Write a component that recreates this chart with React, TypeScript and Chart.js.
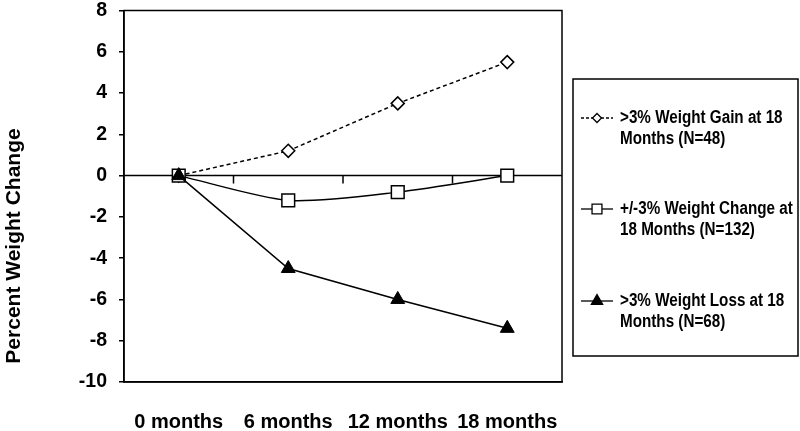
import React, { useEffect, useRef } from 'react';
import { Chart, registerables } from 'chart.js';

Chart.register(...registerables);

const categories = ['0 months', '6 months', '12 months', '18 months'];
const gainValues = [0, 1.2, 3.5, 5.5];
const stableValues = [0, -1.2, -0.8, 0];
const lossValues = [0, -4.5, -6.0, -7.4];
const yTickValues = [-10, -8, -6, -4, -2, 0, 2, 4, 6, 8];
const gainLegend = ['>3% Weight Gain at 18', 'Months (N=48)'];
const stableLegend = ['+/-3% Weight Change at', '18 Months (N=132)'];
const lossLegend = ['>3% Weight Loss at 18', 'Months (N=68)'];
const yTitle = 'Percent Weight Change';

const FONT = '"Liberation Sans", Arial, sans-serif';

function drawMarker(ctx: CanvasRenderingContext2D, style: string, x: number, y: number, r: number) {
  ctx.beginPath();
  if (style === 'rectRot') {
    ctx.moveTo(x, y - r);
    ctx.lineTo(x + r, y);
    ctx.lineTo(x, y + r);
    ctx.lineTo(x - r, y);
    ctx.closePath();
    ctx.fillStyle = '#fff';
    ctx.fill();
    ctx.stroke();
  } else if (style === 'rect') {
    const s = r * Math.SQRT1_2;
    ctx.rect(x - s, y - s, 2 * s, 2 * s);
    ctx.fillStyle = '#fff';
    ctx.fill();
    ctx.stroke();
  } else {
    ctx.moveTo(x, y - r);
    ctx.lineTo(x + r * 0.866, y + r * 0.5);
    ctx.lineTo(x - r * 0.866, y + r * 0.5);
    ctx.closePath();
    ctx.fillStyle = '#000';
    ctx.fill();
    ctx.stroke();
  }
}

const framePlugin = {
  id: 'frameAndLegend',
  beforeDatasetsDraw(chart: any) {
    const { ctx, chartArea: a, scales } = chart;
    const xs = scales.x;
    const ys = scales.y;
    ctx.save();
    ctx.strokeStyle = '#000';
    ctx.lineWidth = 1.5;
    ctx.strokeRect(a.left, a.top, a.right - a.left, a.bottom - a.top);
    const y0 = ys.getPixelForValue(0);
    ctx.beginPath();
    ctx.moveTo(a.left, y0);
    ctx.lineTo(a.right, y0);
    for (let i = 1; i < categories.length; i++) {
      const bx = (xs.getPixelForValue(i - 1) + xs.getPixelForValue(i)) / 2;
      ctx.moveTo(bx, y0);
      ctx.lineTo(bx, y0 + 8);
    }
    ctx.stroke();
    ctx.restore();
  },
  afterDraw(chart: any) {
    const { ctx } = chart;
    ctx.save();
    // y-axis title
    ctx.fillStyle = '#000';
    ctx.font = `bold 21px ${FONT}`;
    ctx.textAlign = 'center';
    ctx.textBaseline = 'middle';
    ctx.translate(14, 246);
    ctx.rotate(-Math.PI / 2);
    ctx.fillText(yTitle, 0, 0);
    ctx.restore();

    // legend box
    ctx.save();
    ctx.strokeStyle = '#000';
    ctx.lineWidth = 1.5;
    ctx.strokeRect(573, 79, 225, 277);
    const entries = [
      { lines: gainLegend, y: 118, dash: [3, 2], marker: 'rectRot', r: 4.5 },
      { lines: stableLegend, y: 209, dash: [], marker: 'rect', r: 7 },
      { lines: lossLegend, y: 301, dash: [], marker: 'triangle', r: 6.5 },
    ];
    entries.forEach((e) => {
      ctx.save();
      ctx.lineWidth = 1.3;
      ctx.strokeStyle = '#000';
      ctx.setLineDash(e.dash);
      ctx.beginPath();
      ctx.moveTo(581, e.y);
      ctx.lineTo(613, e.y);
      ctx.stroke();
      ctx.setLineDash([]);
      drawMarker(ctx, e.marker, 597, e.y, e.r);
      ctx.restore();
      e.lines.forEach((t, i) => {
        ctx.save();
        ctx.fillStyle = '#000';
        ctx.font = `bold 17.5px ${FONT}`;
        ctx.textAlign = 'left';
        ctx.textBaseline = 'middle';
        ctx.translate(620, e.y + i * 21);
        ctx.scale(0.87, 1);
        ctx.fillText(t, 0, 0);
        ctx.restore();
      });
    });
    ctx.restore();
  },
};

export default function App() {
  const ref = useRef<HTMLCanvasElement>(null);
  useEffect(() => {
    if (!ref.current) return;
    const chart = new Chart(ref.current, {
      type: 'line',
      data: {
        labels: categories,
        datasets: [
          {
            label: lossLegend.join(' '),
            data: lossValues,
            borderColor: '#000',
            borderWidth: 1.5,
            pointStyle: 'triangle',
            pointRadius: 8,
            pointBackgroundColor: '#000',
            pointBorderColor: '#000',
            pointBorderWidth: 1,
            tension: 0,
          },
          {
            label: stableLegend.join(' '),
            data: stableValues,
            borderColor: '#000',
            borderWidth: 1.5,
            pointStyle: 'rect',
            pointRadius: 9,
            pointBackgroundColor: '#fff',
            pointBorderColor: '#000',
            pointBorderWidth: 1.5,
            tension: 0.25,
          },
          {
            label: gainLegend.join(' '),
            data: gainValues,
            borderColor: '#000',
            borderWidth: 1.5,
            borderDash: [4, 3],
            pointStyle: 'rectRot',
            pointRadius: 6.5,
            pointBackgroundColor: '#fff',
            pointBorderColor: '#000',
            pointBorderWidth: 1.5,
            tension: 0,
          },
        ],
      },
      options: {
        animation: false,
        responsive: true,
        maintainAspectRatio: false,
        layout: { padding: { top: 9, right: 238, left: 0, bottom: 0 } },
        plugins: { legend: { display: false }, tooltip: { enabled: false } },
        scales: {
          x: {
            type: 'category',
            offset: true,
            grid: { display: true, drawOnChartArea: false, drawTicks: false },
            border: { display: true, color: '#000', width: 1.5 },
            ticks: {
              color: '#000',
              padding: 28,
              font: { family: FONT, size: 20, weight: 'bold' },
              maxRotation: 0,
            },
            afterFit: (s: any) => {
              s.height = 49;
              s.paddingLeft = 0;
              s.paddingRight = 0;
            },
          },
          y: {
            min: -10,
            max: 8,
            grid: { display: true, drawOnChartArea: false, drawTicks: true, tickLength: 5, color: '#000', lineWidth: 1.5 },
            border: { display: true, color: '#000', width: 1.5 },
            ticks: {
              color: '#000',
              padding: 12,
              font: { family: FONT, size: 19.5, weight: 'bold' },
            },
            afterBuildTicks: (s: any) => {
              s.ticks = yTickValues.map((v) => ({ value: v }));
            },
            afterFit: (s: any) => {
              s.width = 124;
              s.paddingTop = 0;
              s.paddingBottom = 0;
            },
          },
        },
      },
      plugins: [framePlugin],
    });
    return () => chart.destroy();
  }, []);
  return (
    <div style={{ position: 'absolute', left: 0, top: 0, width: 800, height: 431, background: '#fff' }}>
      <canvas ref={ref} />
    </div>
  );
}
